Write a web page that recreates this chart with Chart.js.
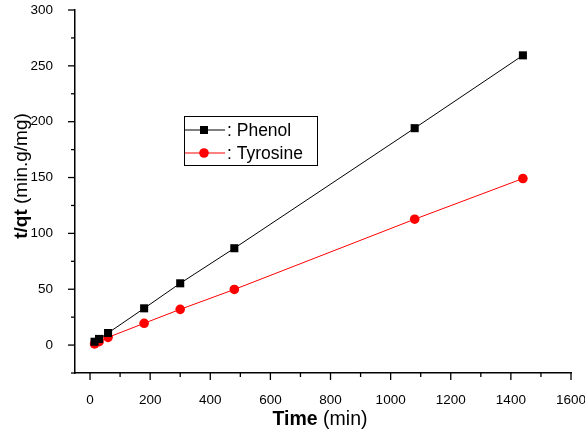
<!DOCTYPE html>
<html>
<head>
<meta charset="utf-8">
<script src="https://cdn.jsdelivr.net/npm/chart.js@4/dist/chart.umd.min.js"></script>
<style>
	html, body { margin: 0; padding: 0; background: #fff; }
	#wrap { width: 585px; height: 436px; }
</style>
</head>
<body>
<div id="wrap"><canvas id="canvasKinetics"></canvas></div>
<script>
"use strict"

// data
var times = [15, 30, 60, 180, 300, 480, 1080, 1440]
var phenol = [3, 5.5, 10.8, 32.9, 55.3, 86.7, 194.2, 259.4]
var tyrosine = [1, 3, 6.9, 19.5, 32, 49.8, 112.7, 149.1]
var xTicks = [0, 200, 400, 600, 800, 1000, 1200, 1400, 1600]
var yTicks = [0, 50, 100, 150, 200, 250, 300]

function toPoints(values) {
	return times.map(function (t, i) { return { x: t, y: values[i] } })
}

var FONT = '"Liberation Sans", Arial, sans-serif'

// axis ticks (major + minor), axis titles and the boxed legend
var decorations = {
	id: 'decorations',
	afterDraw: function (chart) {
		const ctx = chart.ctx
		const xs = chart.scales.x
		const ys = chart.scales.y
		const area = chart.chartArea
		ctx.save()
		ctx.strokeStyle = '#000'
		ctx.lineWidth = 1.3

		// x ticks, outward (down)
		for (let i = 0; i < xTicks.length; i++) {
			let px = xs.getPixelForValue(xTicks[i])
			ctx.beginPath(); ctx.moveTo(px, area.bottom); ctx.lineTo(px, area.bottom + 7); ctx.stroke()
			if (i < xTicks.length - 1) {
				px = xs.getPixelForValue((xTicks[i] + xTicks[i + 1]) / 2)
				ctx.beginPath(); ctx.moveTo(px, area.bottom); ctx.lineTo(px, area.bottom + 4); ctx.stroke()
			}
		}
		// y ticks, outward (left)
		let yMinor = [ys.min].concat(yTicks.slice(0, -1).map(function (v, i) { return (v + yTicks[i + 1]) / 2 }))
		yTicks.forEach(function (v) {
			const py = ys.getPixelForValue(v)
			ctx.beginPath(); ctx.moveTo(area.left, py); ctx.lineTo(area.left - 7, py); ctx.stroke()
		})
		yMinor.forEach(function (v) {
			const py = ys.getPixelForValue(v)
			ctx.beginPath(); ctx.moveTo(area.left, py); ctx.lineTo(area.left - 4, py); ctx.stroke()
		})

		// axis titles: bold part + normal part
		ctx.fillStyle = '#000'
		ctx.textBaseline = 'alphabetic'
		function mixed(boldText, plainText, cx, cy, size) {
			ctx.font = 'bold ' + size + 'px ' + FONT
			const w1 = ctx.measureText(boldText).width
			ctx.font = size + 'px ' + FONT
			const w2 = ctx.measureText(plainText).width
			let x0 = cx - (w1 + w2) / 2
			ctx.textAlign = 'left'
			ctx.font = 'bold ' + size + 'px ' + FONT
			ctx.fillText(boldText, x0, cy)
			ctx.font = size + 'px ' + FONT
			ctx.fillText(plainText, x0 + w1, cy)
		}
		mixed('Time', ' (min)', 320, 425, 19.5)
		ctx.save()
		ctx.translate(27, 176)
		ctx.rotate(-Math.PI / 2)
		mixed('t/qt', ' (min.g/mg)', 0, 0, 19)
		ctx.restore()

		// legend box
		ctx.lineWidth = 1
		ctx.strokeStyle = '#000'
		ctx.strokeRect(184.5, 116.5, 133, 49)
		ctx.font = '17.5px ' + FONT
		ctx.textBaseline = 'middle'
		ctx.textAlign = 'left'
		chart.data.datasets.forEach(function (ds, i) {
			const ly = 130 + i * 23
			ctx.strokeStyle = ds.borderColor
			ctx.lineWidth = 1
			ctx.beginPath(); ctx.moveTo(185, ly); ctx.lineTo(225, ly); ctx.stroke()
			ctx.fillStyle = ds.backgroundColor
			if (ds.pointStyle === 'rect') {
				ctx.fillRect(200, ly - 4, 8, 8)
			} else {
				ctx.beginPath(); ctx.arc(204, ly, 4.8, 0, Math.PI * 2); ctx.fill()
			}
			ctx.fillStyle = '#000'
			ctx.fillText(': ' + ds.label, 227, ly + 1)
		})
		ctx.restore()
	}
}

const context = document.getElementById('canvasKinetics').getContext('2d')
const myChart = new Chart(context, {
	type: 'line',
	data: {
		datasets: [{
			label: 'Phenol',
			data: toPoints(phenol),
			borderColor: '#000000',
			backgroundColor: '#000000',
			borderWidth: 1,
			pointStyle: 'rect',
			pointRadius: 5.7,
			pointBorderWidth: 0,
			tension: 0
		}, {
			label: 'Tyrosine',
			data: toPoints(tyrosine),
			borderColor: '#ff0000',
			backgroundColor: '#ff0000',
			borderWidth: 1,
			pointStyle: 'circle',
			pointRadius: 4.8,
			pointBorderWidth: 0,
			tension: 0
		}]
	},
	options: {
		responsive: true,
		maintainAspectRatio: false,
		animation: false,
		layout: { padding: { top: 10, right: 14, left: 0, bottom: 0 } },
		plugins: {
			legend: { display: false },
			tooltip: { enabled: false }
		},
		scales: {
			x: {
				type: 'linear',
				min: -50,
				max: 1600,
				afterBuildTicks: function (scale) {
					scale.ticks = xTicks.map(function (v) { return { value: v } })
				},
				afterFit: function (scale) {
					scale.height = 63
					scale.paddingLeft = 0
					scale.paddingRight = 0
				},
				grid: { display: false },
				border: { display: true, color: '#000', width: 1.5 },
				ticks: {
					color: '#000',
					padding: 11,
					maxRotation: 0,
					autoSkip: false,
					font: { family: FONT, size: 13.5 },
					callback: function (value) { return String(value) }
				}
			},
			y: {
				type: 'linear',
				min: -25,
				max: 300,
				afterBuildTicks: function (scale) {
					scale.ticks = yTicks.map(function (v) { return { value: v } })
				},
				afterFit: function (scale) {
					scale.width = 75
					scale.paddingTop = 0
					scale.paddingBottom = 0
				},
				grid: { display: false },
				border: { display: true, color: '#000', width: 1.5 },
				ticks: {
					color: '#000',
					padding: 14,
					autoSkip: false,
					font: { family: FONT, size: 13.5 },
					callback: function (value) { return String(value) }
				}
			}
		}
	},
	plugins: [decorations]
})
</script>
</body>
</html>
